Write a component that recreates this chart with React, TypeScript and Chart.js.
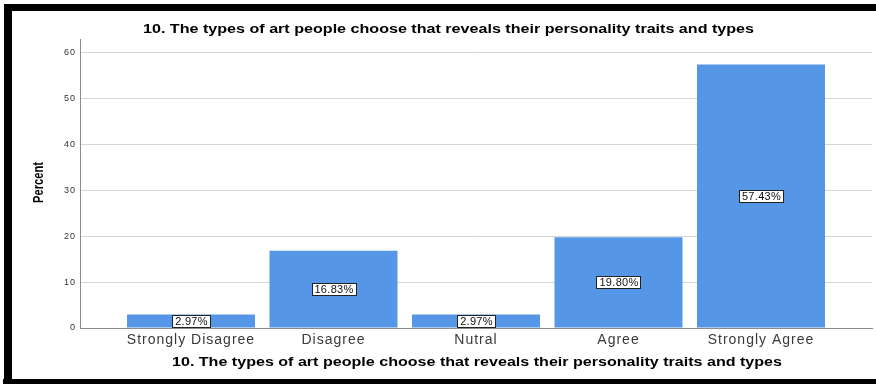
import React, { useEffect, useRef } from "react";
import { Chart, registerables } from "chart.js";

Chart.register(...registerables);

const titleText = "10. The types of art people choose that reveals their personality traits and types";
const yAxisTitle = "Percent";
const categories = ["Strongly Disagree", "Disagree", "Nutral", "Agree", "Strongly Agree"];
const percents = [2.97, 16.83, 2.97, 19.8, 57.43];
const yTicks = [0, 10, 20, 30, 40, 50, 60];

const FONT = "'Liberation Sans', Arial, sans-serif";

function setSpacing(ctx: any, s: string) {
  try {
    ctx.letterSpacing = s;
  } catch (e) {}
}

function drawStretched(ctx: any, text: string, cx: number, baseline: number, targetWidth: number) {
  const w = ctx.measureText(text).width;
  const sx = targetWidth / w;
  ctx.save();
  ctx.translate(cx, baseline);
  ctx.scale(sx, 1);
  ctx.textAlign = "center";
  ctx.textBaseline = "alphabetic";
  ctx.fillText(text, 0, 0);
  ctx.restore();
}

const framePlugin = {
  id: "frame",
  beforeUpdate(chart: any) {
    setSpacing(chart.ctx, "1px");
  },
  beforeDraw(chart: any) {
    const ctx = chart.ctx;
    setSpacing(ctx, "1px");
    ctx.save();
    ctx.fillStyle = "#ffffff";
    ctx.fillRect(0, 0, chart.width, chart.height);
    ctx.restore();
  },
  afterDraw(chart: any) {
    const ctx = chart.ctx;
    const area = chart.chartArea;
    ctx.save();
    ctx.fillStyle = "#000000";
    ctx.font = `bold 12px ${FONT}`;
    setSpacing(ctx, "0px");
    drawStretched(ctx, titleText, 448.5, 32.5, 611);
    drawStretched(ctx, titleText, (area.left + area.right) / 2 + 1, 365.5, 610);
    ctx.font = `bold 14px ${FONT}`;
    ctx.translate(39, (area.top + area.bottom) / 2 - 1);
    ctx.rotate(-Math.PI / 2);
    ctx.scale(0.8, 1);
    ctx.textAlign = "center";
    ctx.textBaseline = "middle";
    ctx.fillText(yAxisTitle, 0, 0);
    ctx.restore();

    ctx.save();
    ctx.fillStyle = "#000000";
    ctx.fillRect(4, 4, chart.width - 4, 7);
    ctx.fillRect(4, 4, 8, chart.height - 4);
    ctx.fillRect(3, 379, chart.width - 3, 5);
    ctx.restore();
  },
};

const labelPlugin = {
  id: "barLabels",
  afterDatasetsDraw(chart: any) {
    const ctx = chart.ctx;
    const meta = chart.getDatasetMeta(0);
    ctx.save();
    ctx.font = `11px ${FONT}`;
    setSpacing(ctx, "0.3px");
    ctx.textAlign = "center";
    ctx.textBaseline = "middle";
    meta.data.forEach((bar: any, i: number) => {
      const text = percents[i].toFixed(2) + "%";
      const cx = bar.x;
      const cy = (bar.y + bar.base) / 2;
      const tw = ctx.measureText(text).width;
      const w = Math.round(tw + 5);
      const h = 12;
      const x0 = Math.round(cx - w / 2) + 0.5;
      const y0 = Math.round(cy - h / 2) + 0.5;
      ctx.fillStyle = "#ffffff";
      ctx.fillRect(x0, y0, w, h);
      ctx.strokeStyle = "#222222";
      ctx.lineWidth = 1;
      ctx.strokeRect(x0, y0, w, h);
      ctx.fillStyle = "#111111";
      ctx.fillText(text, cx + 0.5, y0 + h / 2 + 0.5);
    });
    ctx.restore();
  },
};

export default function App() {
  const ref = useRef<HTMLCanvasElement | null>(null);

  useEffect(() => {
    const prevMargin = document.body.style.margin;
    document.body.style.margin = "0";
    if (!ref.current) return;
    const chart = new Chart(ref.current, {
      type: "bar",
      data: {
        datasets: [
          {
            data: categories.map((c, i) => ({ x: i, y: percents[i] })),
            backgroundColor: "#5596e6",
            borderWidth: 0,
            barPercentage: 0.898,
            categoryPercentage: 1,
          },
        ],
      },
      options: {
        animation: false,
        responsive: false,
        devicePixelRatio: 1,
        layout: { padding: { left: 12, top: 39, right: 4, bottom: 5 } },
        plugins: {
          legend: { display: false },
          tooltip: { enabled: false },
          title: { display: false },
        },
        scales: {
          x: {
            type: "linear",
            offset: false,
            min: -0.779,
            max: 4.779,
            afterBuildTicks: (scale: any) => {
              scale.ticks = categories.map((c, i) => ({ value: i }));
            },
            afterFit: (scale: any) => {
              scale.height = 51;
            },
            grid: { display: false, drawTicks: false, offset: false },
            border: { display: true, color: "#8c8c8c", width: 1 },
            ticks: {
              autoSkip: false,
              maxRotation: 0,
              padding: 4,
              color: "#3a3a3a",
              font: { family: FONT, size: 14 },
              callback: (v: any) => categories[Math.round(Number(v))] ?? "",
            },
          },
          y: {
            min: 0,
            max: 63,
            afterBuildTicks: (scale: any) => {
              scale.ticks = yTicks.map((v) => ({ value: v }));
            },
            afterFit: (scale: any) => {
              scale.width = 68;
            },
            grid: { color: "#d6d6d6", lineWidth: 1, drawTicks: false },
            border: { display: true, color: "#8c8c8c", width: 1 },
            ticks: {
              padding: 4,
              color: "#333333",
              font: { family: FONT, size: 9 },
            },
          },
        },
      },
      plugins: [framePlugin, labelPlugin],
    } as any);
    return () => {
      chart.destroy();
      document.body.style.margin = prevMargin;
    };
  }, []);

  return (
    <div style={{ position: "fixed", left: 0, top: 0, width: 876, height: 384 }}>
      <canvas ref={ref} width={876} height={384} style={{ display: "block" }} />
    </div>
  );
}
